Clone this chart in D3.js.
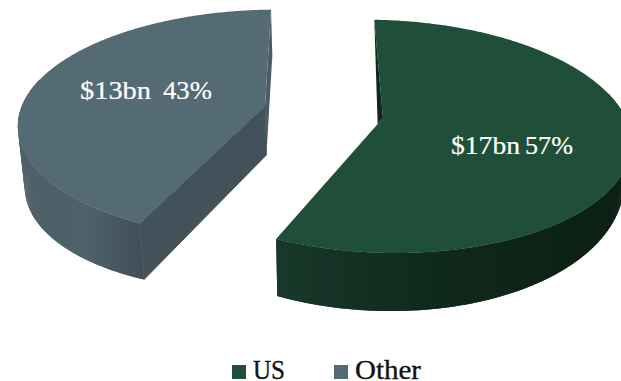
<!DOCTYPE html>
<html><head><meta charset="utf-8"><style>html,body{margin:0;background:#fff}svg{display:block}text{font-family:"Liberation Serif",serif}</style></head><body>
<svg id="chart" width="621" height="381"></svg>
<script src="https://cdn.jsdelivr.net/npm/d3@7"></script>
<script>
// Revenue split, in $bn, with the printed shares
const categories = ["US", "Other"];
const revenue = [17, 13];
const shares = [57, 43];
const topColors = ["#1f4f38", "#556b73"];

// Each exploded slice sits on its own tilted plane
const planes = [
  {apex:[383,118], R:246.262, b:10.097, S:113.719, c:2.064, k:0.158, m:-0.012, depth:[34.9,-2.2,23.1]},
  {apex:[265,106], R:251.387, b:-6.982, S:111.815, c:0.613, k:0.160, m:0.035, depth:[49,-11,3]}
];
const wallStops = [
  [[0,"#17382a"],[.45,"#10291d"],[1,"#0b1f14"]],
  [[0,"#4d5f67"],[.55,"#4e6169"],[1,"#3f4e56"]]
];
const wallSpans = [[277,621],[20,146]];
const cutWallColor = ["#17382a", "#43525a"];
const innerWallColor = ["#0c2a1b", "#4a5d66"];
const labelSpots = [
  {value:[451,69], share:[525,48], y:154},
  {value:[80,71], share:[163,49], y:99}
];
const legendSpots = [{box:232, text:253, width:32},{box:334, text:355, width:66}];

const svg = d3.select("#chart");
const defs = svg.append("defs");
const slices = d3.pie().sort(null).value(d => d)(revenue);

function project(plane, angle){
  const u = Math.sin(angle), v = -Math.cos(angle), w = 1 - plane.k*v - plane.m*u;
  const x = plane.apex[0] + (plane.R*u + plane.b*v)/w;
  const y = plane.apex[1] + (plane.S*v + plane.c*u)/w;
  return {x, y, u, v};
}
// The underside lies lower and draws in slightly towards the middle of the view
function lower(plane, p){
  const [d0,du,dv] = plane.depth;
  return [330 + (p.x-330)*0.978, p.y + d0 + du*p.u + dv*p.v];
}
const line = d3.line();
const xy = p => [p.x, p.y];

slices.forEach((s,i) => {
  const plane = planes[i];
  const angles = d3.range(s.startAngle, s.endAngle, 0.01).concat([s.endAngle]);
  const rim = angles.map(a => project(plane,a));
  const apex = {x:plane.apex[0], y:plane.apex[1], u:0, v:0};
  const first = rim[0], last = rim[rim.length-1];
  const seam = i === 0 ? last : first;   // end of the cut that faces the viewer
  const tip = i === 0 ? first : last;    // end of the cut that runs to the back
  const g = svg.append("g");

  const wallId = "wall" + i;
  const grad = defs.append("linearGradient").attr("id",wallId)
    .attr("gradientUnits","userSpaceOnUse")
    .attr("x1",wallSpans[i][0]).attr("x2",wallSpans[i][1]).attr("y1",0).attr("y2",0);
  wallStops[i].forEach(st => grad.append("stop").attr("offset",st[0]).attr("stop-color",st[1]));

  // straight walls along both cuts of the left slice
  if(i === 1){
    g.append("path").attr("fill",innerWallColor[i])
      .attr("d", line([xy(tip),xy(apex),lower(plane,apex),lower(plane,tip)])+"Z");
    g.append("path").attr("fill",cutWallColor[i]).attr("stroke",cutWallColor[i]).attr("stroke-width",0.8)
      .attr("d", line([xy(seam),xy(apex),lower(plane,apex),lower(plane,seam)])+"Z");
  }

  // curved outer wall on the near side of the rim; each facet overlaps the next so no seams show
  const near = rim.filter(p => p.v > -0.25);
  const facets = near.slice(0,-1).map((a,j) => {
    const b = near[Math.min(j+2, near.length-1)];
    return line([xy(a),xy(b),lower(plane,b),lower(plane,a)])+"Z";
  });
  g.append("g").selectAll("path").data(facets).join("path")
    .attr("d",d => d).attr("fill","url(#"+wallId+")");

  // top face
  g.append("path").attr("fill",topColors[i])
    .attr("d", line([xy(apex)].concat(rim.map(xy)))+"Z");

  // dark sliver of the rear wall showing beside the top face of the US slice
  if(i === 0){
    const t = 0.05;
    const foot = [apex.x+(seam.x-apex.x)*t, apex.y+(seam.y-apex.y)*t];
    g.append("path").attr("fill",innerWallColor[i]).attr("d", line([xy(tip),xy(apex),foot])+"Z");
  }

  // value and share labels
  const spot = labelSpots[i];
  const fit = (txt,[x,w]) => g.append("text").attr("x",x).attr("y",spot.y).attr("font-size",26)
    .attr("fill","#fff").attr("stroke","#fff").attr("stroke-width",0.2)
    .attr("textLength",w).attr("lengthAdjust","spacingAndGlyphs").text(txt);
  fit("$"+revenue[i]+"bn", spot.value);
  fit(shares[i]+"%", spot.share);
});

// legend
categories.forEach((name,i) => {
  svg.append("rect").attr("x",legendSpots[i].box).attr("y",365).attr("width",14).attr("height",14).attr("fill",topColors[i]);
  svg.append("text").attr("x",legendSpots[i].text).attr("y",379).attr("font-size",27).attr("fill","#111")
    .attr("stroke","#111").attr("stroke-width",0.35)
    .attr("textLength",legendSpots[i].width).attr("lengthAdjust","spacingAndGlyphs").text(name);
});
</script></body></html>
